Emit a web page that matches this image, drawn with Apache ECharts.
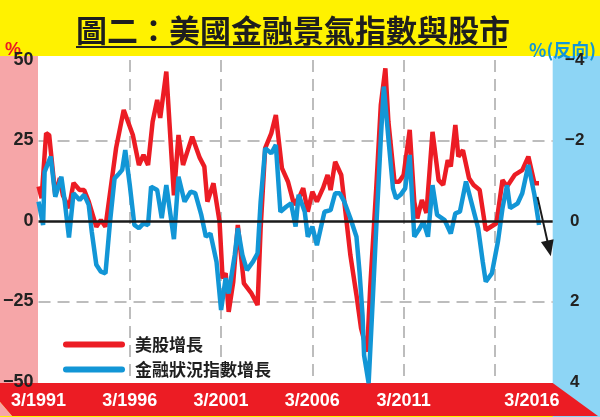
<!DOCTYPE html>
<html><head><meta charset="utf-8">
<script src="https://cdn.jsdelivr.net/npm/echarts@6/dist/echarts.min.js"></script>
<style>html,body{margin:0;padding:0;background:#fff200}#c{width:600px;height:417px}</style>
</head><body><div id="c"></div>
<script>
// months counted from 3/1991
const xTickLabels = ['3/1991','3/1996','3/2001','3/2006','3/2011','3/2016'];
const redName = '美股增長';
const blueName = '金融狀況指數增長';
const redMonths = [0,2,5,7,11,14,16,18,20,23,27,30,33,38,41,44,48,51,56,62,66,69,72,75,78,80,84,89,92,95,101,106,109,111,115,119,121,123,125,128,131,135,140,144,146,149,153,156,160,164,168,172,174,177,180,183,187,190,192,195,199,202,205,209,212,216,218,222,225,228,230,234,237,240,244,247,249,252,255,259,263,266,269,271,274,276,279,283,286,290,294,301,305,308,313,318,322,326,329];
const redValues = [10.7,7.1,27.3,26.7,8,13.3,8,6,4,11.8,9.6,9.6,6,-1.8,0.3,-1.8,12.2,22.7,34.5,26.7,17.4,20.5,17.4,30.8,37.6,32,46.4,8,26.7,17.4,26.2,19.6,16.9,6,11.7,-0.2,-17.8,-16.2,-28.2,-18.9,-1.2,-19.4,-22.5,-26.1,-2.3,22.6,27.2,32.9,16.4,12.2,5,8,10.2,2.9,9.1,6,10.2,14.3,9.6,18.4,14.3,1.9,-10.6,-23,-33.3,-40.6,-20.9,10.2,36,47.4,30.8,12.2,12.2,14.3,28.3,6,0.8,6.5,2.5,27.7,12.7,11.2,18.9,16.9,29.8,20,22,13.3,11.2,9.6,-2.8,-0.7,12.7,10.7,14.3,15.8,20,11.7,11.7];
const blueMonths = [0,3,4,8,11,15,17,20,23,27,30,33,35,38,41,44,47,50,53,55,57,60,63,66,69,72,74,78,81,84,89,92,96,100,103,107,110,113,117,120,123,125,129,131,134,137,141,144,146,149,153,156,159,163,166,169,171,175,177,180,183,186,188,192,195,198,201,205,209,211,213,214,217,219,222,225,227,230,233,235,238,241,244,247,250,253,256,259,262,267,271,274,277,281,285,289,292,294,298,302,305,308,310,315,318,322,326,329];
const blueValues = [-0.48,0.1,-1.22,-1.6,-0.6,-1.1,-0.56,0.41,-0.69,-0.52,-0.65,-0.4,0.27,1.09,1.26,1.3,0.02,-1.06,-1.18,-1.27,-1.76,-0.89,0.1,0.18,0.06,0.1,-0.85,-0.77,-0.07,-0.89,0.45,-1.1,-0.48,-0.73,-0.69,-0.15,0.39,0.31,1.01,2.21,1.42,1.8,0.84,0.18,0.84,1.22,1.01,0.8,-0.48,-1.81,-1.68,-1.89,-0.23,-0.36,-0.44,0.14,-0.65,-0.23,0.39,0.14,0.6,0.1,-0.23,-0.27,-0.69,-0.69,-0.48,-0.07,0.39,1.26,2.34,3.33,4.03,2.5,0.18,-2.05,-3.34,-2.05,-0.81,-0.56,-0.65,-0.81,-1.64,0.39,0.22,0.02,0.39,-0.89,-0.15,-0.02,0.31,-0.19,-0.23,-0.98,-0.4,0.18,1.01,1.51,1.3,0.51,-0.32,-0.89,-0.32,-0.44,-0.69,-1.39,-0.65,0.1];
const arrowFrom = [328, -0.6];
const arrowTo = [335.6, 0.68];

const RED = '#ec1c24', BLUE = '#1296d6';
const NUMFONT = 'Liberation Sans, Arial, sans-serif';
const CJK = 'Noto Sans CJK TC, sans-serif';
const minus = v => String(v).replace('-', '\u2212');

const chart = echarts.init(document.getElementById('c'), null, {renderer: 'canvas'});
const pill = 'path://M3,0 L59,0 A3,3 0 0 1 59,6 L3,6 A3,3 0 0 1 3,0 Z';
chart.setOption({
  backgroundColor: '#fff200',
  animation: false,
  title: {
    text: '圖二：美國金融景氣指數與股市', left: 76, top: 15, padding: 0,
    textStyle: {fontSize: 31, fontWeight: 'bold', fontFamily: CJK, color: '#1e1e1e', lineHeight: 31}
  },
  graphic: [
    {type: 'rect', z: -10, shape: {x: 0, y: 56, width: 38, height: 327}, style: {fill: '#f6a6a8'}},
    {type: 'rect', z: -10, shape: {x: 38, y: 56, width: 515, height: 327}, style: {fill: '#ffffff'}},
    {type: 'rect', z: -10, shape: {x: 552.7, y: 56, width: 48, height: 361}, style: {fill: '#8dd5f5'}},
    {type: 'polygon', z: -9, shape: {points: [[0,383],[552.7,383],[598,416],[12,416],[0,402]]}, style: {fill: RED}},
    {type: 'polygon', z: -9, shape: {points: [[0,402],[12,416],[0,416]]}, style: {fill: '#f6a6a8'}},
    {type: 'line', shape: {x1: 76, y1: 47, x2: 507, y2: 47}, style: {stroke: '#222', lineWidth: 2}},
    {type: 'text', x: 5, y: 50, style: {text: '%', fill: RED, font: 'bold 18px ' + NUMFONT, verticalAlign: 'middle', align: 'left'}},
    {type: 'text', x: 596, y: 50, style: {text: '%(反向)', fill: BLUE, font: 'bold 18px ' + CJK, verticalAlign: 'middle', align: 'right'}}
  ],
  legend: {
    orient: 'vertical', left: 58, top: 331, itemWidth: 62, itemHeight: 6, itemGap: 8,
    icon: pill,
    textStyle: {fontSize: 17, fontWeight: 'bold', fontFamily: CJK, color: '#1e1e1e', lineHeight: 17, padding: [0,0,0,5]},
    data: [redName, blueName]
  },
  grid: {left: 37.7, right: 47.3, top: 60, bottom: 35, containLabel: false},
  xAxis: {
    type: 'value', min: 0, max: 338, interval: 60,
    axisLine: {show: false}, axisTick: {show: false},
    axisLabel: {
      color: '#fff', fontSize: 18, fontWeight: 'bold', fontFamily: NUMFONT, margin: 10,
      formatter: v => {
        if (v % 60 !== 0) return '';
        const t = xTickLabels[v / 60] || '';
        return v === 300 ? '{s|' + t + '}' : t;
      },
      rich: {s: {color: '#fff', fontSize: 18, fontWeight: 'bold', fontFamily: NUMFONT, padding: [0,0,0,74]}}
    },
    splitLine: {show: true, lineStyle: {color: ['transparent','#bdbdbd','#bdbdbd','#bdbdbd','#bdbdbd','#bdbdbd','transparent'], width: 2, type: [12, 7]}}
  },
  yAxis: [
    {
      type: 'value', min: -50, max: 50, interval: 25, position: 'left',
      axisLine: {show: false}, axisTick: {show: false},
      axisLabel: {color: '#222', fontSize: 18, fontWeight: 'bold', fontFamily: NUMFONT, margin: 5, formatter: v => minus(v)},
      splitLine: {show: true, lineStyle: {color: ['transparent','#bdbdbd','transparent','#bdbdbd','transparent'], width: 2, type: [12, 7]}}
    },
    {
      type: 'value', min: -4, max: 4, interval: 2, inverse: true, position: 'right',
      axisLine: {show: false}, axisTick: {show: false},
      axisLabel: {color: '#222', fontSize: 17, fontWeight: 'bold', fontFamily: NUMFONT, margin: 22, align: 'center', formatter: v => minus(v)},
      splitLine: {show: false}
    }
  ],
  series: [
    {
      name: redName, type: 'line', yAxisIndex: 0, showSymbol: false, z: 3,
      color: RED, lineStyle: {color: RED, width: 4.5},
      data: redMonths.map((m, i) => [m, redValues[i]]),
      markLine: {
        silent: true, symbol: 'none', label: {show: false},
        lineStyle: {color: '#1a1a1a', width: 2.5, type: 'solid'},
        data: [{yAxis: 0}]
      }
    },
    {
      name: blueName, type: 'line', yAxisIndex: 1, showSymbol: false, z: 4,
      color: BLUE, lineStyle: {color: BLUE, width: 4.5},
      data: blueMonths.map((m, i) => [m, blueValues[i]]),
      markLine: {
        silent: true, symbol: ['none', 'triangle'], symbolSize: [13, 16], label: {show: false},
        lineStyle: {color: '#1a1a1a', width: 2, type: 'solid'},
        data: [[{coord: arrowFrom}, {coord: arrowTo}]]
      }
    }
  ]
});
</script></body></html>
